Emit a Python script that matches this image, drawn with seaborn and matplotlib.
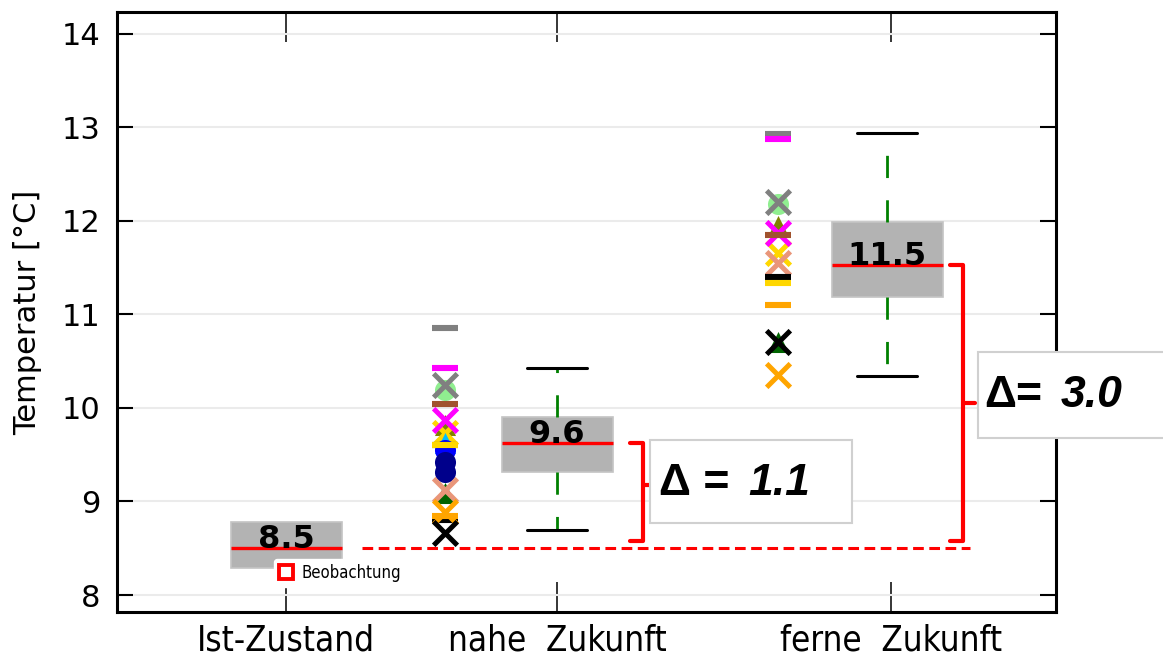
import matplotlib.pyplot as plt
import matplotlib.patches as mpatches
from matplotlib.lines import Line2D
import seaborn as sns

# periods on the x axis
categories = ["Ist-Zustand", "nahe  Zukunft", "ferne  Zukunft"]
tick_pos = [0.0, 1.0, 2.232]
box_pos = [0.0, 1.0, 2.218]
scatter_pos = [0.587, 1.815]  # model points for nahe / ferne

# box statistics in °C
q1 = [8.29, 9.32, 11.19]
med = [8.50, 9.62, 11.53]
q3 = [8.78, 9.90, 11.99]
whis_lo = [8.29, 8.70, 10.34]
whis_hi = [8.78, 10.43, 12.94]

# single model results (drawing order), nan = not shown
nan = float("nan")
model_colors = ["#90ee90", "#808080", "#808080", "#ff00ff", "#808000", "#ffd700",
                "#00bfff", "#0000ff", "#00008b", "#00008b", "#006400", "#e9967a",
                "#000000", "#000000", "#ffa500", "#ffa500", "#ff00ff", "#a0522d",
                "#ffd700", "#000000"]
model_markers = ["o", "x", "_", "_", "^", "x",
                 "^", "o", "o", "o", "^", "x",
                 "_", "_", "_", "x", "x", "_",
                 "_", "x"]
nahe_vals = [10.19, 10.25, 10.85, 10.43, 9.82, 9.73,
             9.62, 9.55, 9.42, 9.32, 9.09, 9.12,
             9.60, 8.80, 8.85, 8.89, 9.87, 10.04,
             9.60, 8.66]
ferne_vals = [12.18, 12.20, 12.93, 12.88, 11.94, 11.66,
              nan, nan, nan, nan, 10.70, 11.55,
              11.40, 11.38, 11.10, 10.35, 11.87, 11.85,
              11.34, 10.71]

sns.set_style("white")
plt.rcParams['font.family'] = ['DejaVu Sans']
for k in ["text.color", "axes.labelcolor", "xtick.color", "ytick.color"]:
    plt.rcParams[k] = "black"

fig = plt.figure(figsize=(11.63, 6.56), dpi=100)
ax = fig.add_axes([0.1006, 0.067, 0.8074, 0.915])

# boxes
stats = [dict(med=med[i], q1=q1[i], q3=q3[i], whislo=whis_lo[i], whishi=whis_hi[i], fliers=[])
         for i in range(3)]
box_kw = dict(widths=0.41, patch_artist=True, showfliers=False, manage_ticks=False,
              boxprops=dict(facecolor="#b3b3b3", edgecolor="#c4c4c4", linewidth=1.2),
              medianprops=dict(color="red", linewidth=2.4),
              whiskerprops=dict(color="green", linewidth=2.0, linestyle=(0, (8, 8))),
              capprops=dict(color="black", linewidth=2.2), capwidths=0.22)
ax.bxp(stats[:1], positions=box_pos[:1], showcaps=False,
       **{k: v for k, v in box_kw.items() if k != "whiskerprops"},
       whiskerprops=dict(linewidth=0))
ax.bxp(stats[1:], positions=box_pos[1:], **box_kw)
for i in range(3):
    ax.text(box_pos[i], med[i], f"{med[i]:.1f}", ha="center", va="baseline",
            fontsize=23, fontweight="bold", color="black", zorder=6)

# model points
for c, m, vn, vf in zip(model_colors, model_markers, nahe_vals, ferne_vals):
    filled = m in ("o", "^")
    kw = dict(s=230, linewidth=0, edgecolor=c) if filled else \
        dict(s=330 if m == "_" else 290, linewidth=4.4 if m == "_" else 3.6)
    sns.scatterplot(x=scatter_pos, y=[vn, vf], marker=m, color=c, ax=ax,
                    legend=False, zorder=3, **kw)

# reference line (Ist-Zustand median) and brackets
ax.plot([0.28, 2.524], [med[0], med[0]], color="red", lw=2.2, ls=(0, (3.5, 1.8)), zorder=4)
for i, (xa, xv, xp, ym) in zip([1, 2], [(1.27, 1.317, 1.362, 9.18), (2.45, 2.498, 2.542, 10.05)]):
    top, bot = med[i], med[0] + 0.08
    ax.plot([xa, xv, xv, xa], [top, top, bot, bot], color="red", lw=3,
            solid_joinstyle="round", solid_capstyle="round", zorder=4)
    ax.plot([xv, xp], [ym, ym], color="red", lw=3, solid_capstyle="round", zorder=4)

# delta boxes
for i, (x0, x1, y0, y1, xt, xn, yt, sep) in zip(
        [1, 2], [(1.343, 2.089, 8.77, 9.66, 1.375, 1.705, 9.19, " ="),
                 (2.553, 3.30, 9.68, 10.60, 2.578, 2.858, 10.13, "=")]):
    ax.add_patch(mpatches.Rectangle((x0, y0), x1 - x0, y1 - y0, facecolor="white",
                                    edgecolor="#d0d0d0", lw=1.5, zorder=5, clip_on=False))
    ax.text(xt, yt, "Δ" + sep, ha="left", va="center", fontsize=32, fontweight="bold",
            family="Liberation Sans", color="black", zorder=6, clip_on=False)
    ax.text(xn, yt, f"{med[i] - med[0]:.1f}", ha="left", va="center", fontsize=32,
            fontweight="bold", style="italic", family="Liberation Sans", color="black",
            zorder=6, clip_on=False)

# legend for the observation
obs = Line2D([], [], ls="none", marker="s", ms=10, mfc="none", mec="red", mew=2.8,
             label="Beobachtung")
leg = ax.legend(handles=[obs], loc="center left", bbox_to_anchor=(0.158, 0.065),
                frameon=True, facecolor="white", edgecolor="white", framealpha=1,
                handlelength=0.9, handletextpad=0.45, borderpad=0.3,
                prop=dict(size=12, stretch="condensed"))
leg.set_zorder(4)

# axes styling
ax.set_xlim(-0.624, 2.841)
ax.set_ylim(7.818, 14.235)
ax.set_yticks(range(8, 15))
ax.set_xticks(tick_pos)
ax.set_xticklabels(categories, fontsize=25, fontstretch="condensed")
ax.yaxis.grid(True, color="#ebebeb", lw=1.5)
ax.set_axisbelow(True)
ax.tick_params(axis="y", direction="in", length=11.5, width=1.5, left=True, right=True,
               labelsize=22, pad=12, color="black")
ax.tick_params(axis="x", direction="in", length=21.5, width=1.1, bottom=True, top=True,
               pad=8, color="black")
for s in ax.spines.values():
    s.set_color("black")
    s.set_linewidth(2.2)
ax.set_ylabel("Temperatur [°C]", fontsize=22, labelpad=14)

fig.savefig("out.png", dpi=100)
